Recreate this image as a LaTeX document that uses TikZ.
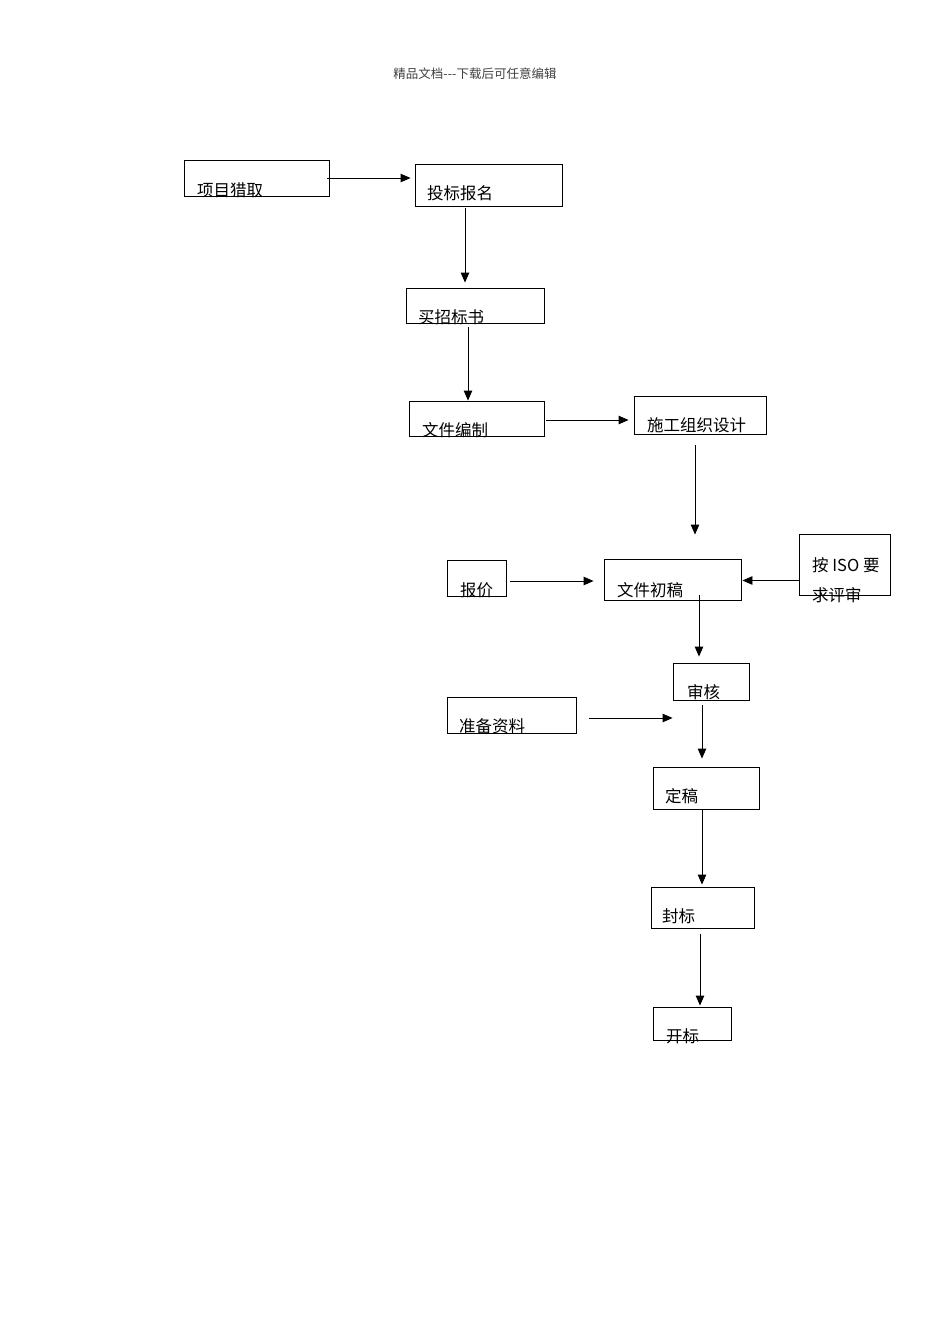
\documentclass[tikz,border=0pt]{standalone}
\usepackage{fontspec}
\newfontfamily\cjk{Noto Sans CJK SC}
\usetikzlibrary{arrows.meta}

\begin{document}
\begin{tikzpicture}[x=1pt,y=-1pt]
\tikzstyle{box}=[draw, line width=.9pt, inner sep=0pt]
\tikzstyle{lbl}=[anchor=west, inner sep=0pt, font=\cjk\fontsize{16.5}{18}\selectfont]
\tikzstyle{arr}=[-{Triangle[length=10pt,width=8.5pt]}, line width=.9pt]
\useasboundingbox (0,0) rectangle (950,1344);
% page header
\node[font=\cjk\fontsize{12.5}{12.5}\selectfont, text=black!75] (hd) at (475,74) {精品文档---下载后可任意编辑};
% boxes
\node[box, minimum width=145pt, minimum height=36pt] (xm) at (256.5,178) {};
\node[box, minimum width=147pt, minimum height=42pt] (tb) at (488.5,185) {};
\node[box, minimum width=138pt, minimum height=35pt] (mz) at (475,305.5) {};
\node[box, minimum width=135pt, minimum height=35pt] (bz) at (476.5,418.5) {};
\node[box, minimum width=132pt, minimum height=38pt] (sg) at (700,415) {};
\node[box, minimum width=59pt, minimum height=36pt] (bj) at (476.5,578) {};
\node[box, minimum width=137pt, minimum height=41pt] (cg) at (672.5,579.5) {};
\node[box, minimum width=91pt, minimum height=61pt] (iso) at (844.5,564.5) {};
\node[box, minimum width=76pt, minimum height=37pt] (sh) at (711,681.5) {};
\node[box, minimum width=129pt, minimum height=36pt] (zb) at (511.5,715) {};
\node[box, minimum width=106pt, minimum height=42pt] (dg) at (706,788) {};
\node[box, minimum width=103pt, minimum height=41pt] (fb) at (702.5,907.5) {};
\node[box, minimum width=78pt, minimum height=33pt] (kb) at (692,1023.5) {};
% labels
\node[lbl] (xm-t) at (197,190) {项目猎取};
\node[lbl] (tb-t) at (427,193) {投标报名};
\node[lbl] (mz-t) at (418,317) {买招标书};
\node[lbl] (bz-t) at (422,430) {文件编制};
\node[lbl] (sg-t) at (647,425) {施工组织设计};
\node[lbl] (bj-t) at (460,590) {报价};
\node[lbl] (cg-t) at (617,590) {文件初稿};
\node[lbl] (iso-t1) at (812,565) {按 ISO 要};
\node[lbl] (iso-t2) at (812,595) {求评审};
\node[lbl] (sh-t) at (687,692) {审核};
\node[lbl] (zb-t) at (459,726) {准备资料};
\node[lbl] (dg-t) at (665,796) {定稿};
\node[lbl] (fb-t) at (662,916) {封标};
\node[lbl] (kb-t) at (666,1036) {开标};
% arrows
\draw[arr, shorten <=-2pt, shorten >=4pt] (xm.east) -- (xm.east -| tb.west);
\draw[arr, shorten <=2pt, shorten >=5pt] ([xshift=-23.5pt]tb.south) -- ([xshift=-23.5pt]tb.south |- mz.north);
\draw[arr, shorten <=4pt] ([xshift=-7pt]mz.south) -- ([xshift=-7pt]mz.south |- bz.north);
\draw[arr, shorten <=2pt, shorten >=5pt] ([yshift=-1.5pt]bz.east) -- ([yshift=-1.5pt]bz.east -| sg.west);
\draw[arr, shorten <=11pt, shorten >=24pt] ([xshift=-5pt]sg.south) -- ([xshift=-5pt]sg.south |- cg.north);
\draw[arr, shorten <=4pt, shorten >=10pt] ([yshift=-3pt]bj.east) -- ([yshift=-3pt]bj.east -| cg.west);
\draw[arr, shorten >=1pt] ([yshift=-16pt]iso.west) -- ([yshift=-16pt]iso.west -| cg.east);
\draw[arr, shorten <=-5pt, shorten >=6pt] ([xshift=26.5pt]cg.south) -- ([xshift=26.5pt]cg.south |- sh.north);
\draw[arr, shorten <=13pt] ([yshift=-3pt]zb.east) -- ([yshift=-3pt]zb.east -| sh.west);
\draw[arr, shorten <=5pt, shorten >=8pt] ([xshift=-9pt]sh.south) -- ([xshift=-9pt]sh.south |- dg.north);
\draw[arr, shorten <=1pt, shorten >=2pt] ([xshift=-4pt]dg.south) -- ([xshift=-4pt]dg.south |- fb.north);
\draw[arr, shorten <=6pt, shorten >=1pt] ([xshift=-2.5pt]fb.south) -- ([xshift=-2.5pt]fb.south |- kb.north);
\end{tikzpicture}
\end{document}
